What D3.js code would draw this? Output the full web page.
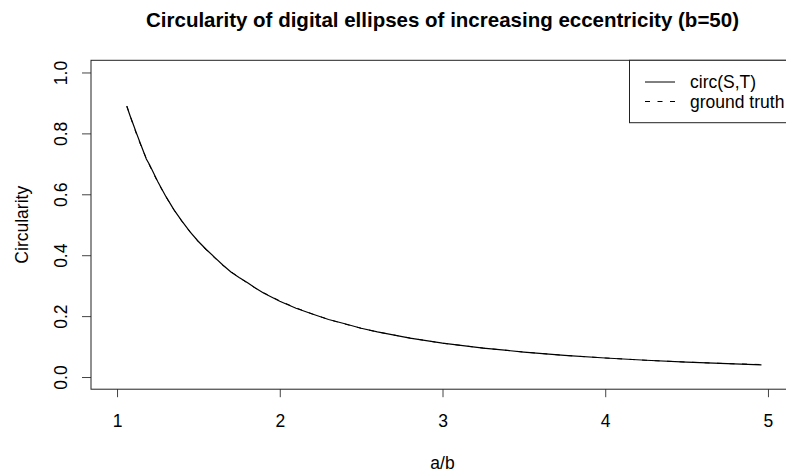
<!DOCTYPE html>
<html>
<head>
<meta charset="utf-8">
<script src="https://cdn.jsdelivr.net/npm/d3@7"></script>
<style>
  body { margin: 0; background: #fff; }
  svg { display: block; font-family: "Liberation Sans", Arial, sans-serif; }
</style>
</head>
<body>
<svg id="chart" width="786" height="474"></svg>
<script>
// a/b ratios (b = 50)
const ratio = [1.06, 1.08, 1.10, 1.12, 1.14, 1.16, 1.18, 1.20, 1.25, 1.30, 1.35, 1.40, 1.45, 1.50, 1.55, 1.60,
  1.65, 1.70, 1.75, 1.80, 1.85, 1.90, 2.00, 2.10, 2.20, 2.30, 2.40, 2.50, 2.60, 2.80, 3.00, 3.25, 3.50,
  3.75, 4.00, 4.25, 4.50, 4.75, 4.96];
// measured circularity circ(S,T)
const circST = [0.889, 0.858, 0.829, 0.800, 0.772, 0.744, 0.716, 0.697, 0.642, 0.593, 0.549, 0.511, 0.476,
  0.445, 0.418, 0.393, 0.368, 0.345, 0.327, 0.310, 0.292, 0.276, 0.249, 0.226, 0.207, 0.189, 0.175,
  0.160, 0.148, 0.128, 0.111, 0.095, 0.082, 0.071, 0.0625, 0.055, 0.049, 0.044, 0.040];
// ground truth
const truth = [0.890, 0.859, 0.826, 0.797, 0.769, 0.743, 0.718, 0.694, 0.640, 0.592, 0.549, 0.510, 0.476,
  0.444, 0.416, 0.391, 0.367, 0.346, 0.327, 0.309, 0.292, 0.277, 0.250, 0.227, 0.207, 0.189, 0.174,
  0.160, 0.148, 0.128, 0.111, 0.095, 0.082, 0.071, 0.0625, 0.055, 0.049, 0.044, 0.041];
const xTicks = [1, 2, 3, 4, 5];
const yTicks = [0, 0.2, 0.4, 0.6, 0.8, 1.0];
const legendItems = [
  { label: 'circ(S,T)', dash: null },
  { label: 'ground truth', dash: '5,7.5' }
];

const svg = d3.select('#chart');
const box = { left: 91, right: 794, top: 60.3, bottom: 389.2 };
const fontSize = '17.5px';

const x = d3.scaleLinear().domain([0.84, 5.16]).range([box.left, box.right]);
const y = d3.scaleLinear().domain([-0.04, 1.04]).range([box.bottom, box.top]);

// title
svg.append('text')
  .attr('x', (box.left + box.right) / 2)
  .attr('y', 27)
  .attr('text-anchor', 'middle')
  .style('font-size', '20.5px')
  .style('font-weight', 'bold')
  .text('Circularity of digital ellipses of increasing eccentricity (b=50)');

// x axis
const xAxis = svg.append('g').attr('transform', `translate(0, ${box.bottom})`)
  .call(d3.axisBottom(x).tickValues(xTicks).tickSize(8).tickFormat(d3.format('d')));
xAxis.select('.domain').remove();
xAxis.selectAll('line').attr('stroke', '#444');
xAxis.selectAll('text')
  .attr('y', 427 - box.bottom).attr('dy', null)
  .style('font-size', fontSize).attr('fill', '#000');

// y axis, rotated labels
const yAxis = svg.append('g').attr('transform', `translate(${box.left}, 0)`)
  .call(d3.axisLeft(y).tickValues(yTicks).tickSize(9).tickFormat(d3.format('.1f')));
yAxis.select('.domain').remove();
yAxis.selectAll('line').attr('stroke', '#444');
yAxis.selectAll('text')
  .attr('x', null).attr('dy', null)
  .attr('text-anchor', 'middle')
  .attr('transform', `translate(${67 - box.left}, 0) rotate(-90)`)
  .style('font-size', fontSize).attr('fill', '#000');

// axis titles
svg.append('text')
  .attr('x', x(3)).attr('y', 469)
  .attr('text-anchor', 'middle')
  .style('font-size', fontSize)
  .text('a/b');
svg.append('text')
  .attr('transform', `translate(28, ${(box.top + box.bottom) / 2}) rotate(-90)`)
  .attr('text-anchor', 'middle')
  .style('font-size', fontSize)
  .text('Circularity');

// lines
const lineST = d3.line().x((d, i) => x(ratio[i])).y(d => y(d));
svg.append('path')
  .datum(truth)
  .attr('d', lineST)
  .attr('fill', 'none')
  .attr('stroke', '#000')
  .attr('stroke-width', 1)
  .attr('stroke-dasharray', '5,7.5');
svg.append('path')
  .datum(circST)
  .attr('d', lineST)
  .attr('fill', 'none')
  .attr('stroke', '#000')
  .attr('stroke-width', 1.2);

// plot box
svg.append('rect')
  .attr('x', box.left).attr('y', box.top)
  .attr('width', box.right - box.left).attr('height', box.bottom - box.top)
  .attr('fill', 'none').attr('stroke', '#222').attr('stroke-width', 1);

// legend (top right, partly cut off like the original)
const legend = svg.append('g').attr('class', 'legend');
legend.append('rect')
  .attr('x', 629.5).attr('y', box.top)
  .attr('width', box.right - 629.5).attr('height', 122.7 - box.top)
  .attr('fill', '#fff').attr('stroke', '#222').attr('stroke-width', 1);

const entries = legend.selectAll('.legend-entry')
  .data(legendItems)
  .enter().append('g')
  .attr('class', 'legend-entry')
  .attr('transform', (d, i) => `translate(0, ${82 + i * 19.5})`);

entries.append('line')
  .attr('x1', 645).attr('x2', 675)
  .attr('stroke', '#000').attr('stroke-width', 1)
  .attr('stroke-dasharray', d => d.dash);
entries.append('text')
  .attr('x', 690).attr('y', 6)
  .style('font-size', fontSize)
  .text(d => d.label);
</script>
</body>
</html>
